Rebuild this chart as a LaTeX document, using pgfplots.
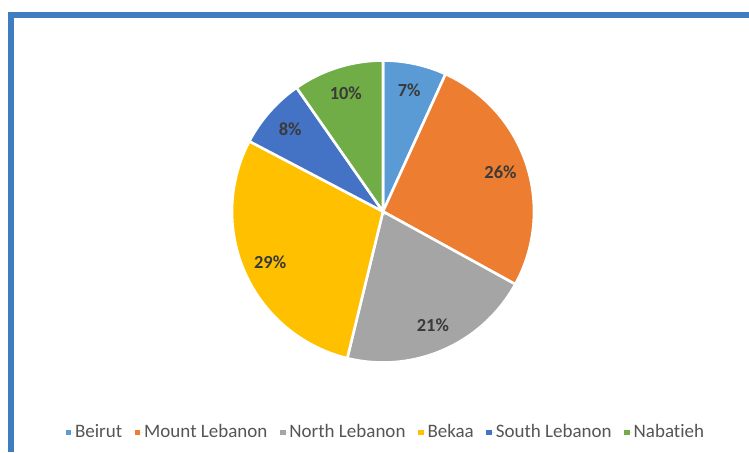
\documentclass[border=0pt]{standalone}
\usepackage{pgfplots}
\pgfplotsset{compat=1.18}
\usepackage{pgfplotstable}
\usepackage{fontspec}
\setmainfont{Carlito}[Ligatures=NoCommon]
\definecolor{cBeirut}{HTML}{5B9BD5}
\definecolor{cMount}{HTML}{ED7D31}
\definecolor{cNorth}{HTML}{A5A5A5}
\definecolor{cBekaa}{HTML}{FFC000}
\definecolor{cSouth}{HTML}{4472C4}
\definecolor{cNabatieh}{HTML}{70AD47}
\definecolor{frameblue}{HTML}{3F7DC0}
\definecolor{labelgray}{HTML}{3A3A3A}
\definecolor{legendgray}{HTML}{555555}

% share (slice size, %) and printed label
\pgfplotstableread[col sep=comma]{
name,value,label
Beirut,6.8,7
Mount Lebanon,26.2,26
North Lebanon,20.8,21
Bekaa,28.9,29
South Lebanon,7.6,8
Nabatieh,9.7,10
}\piedata

% cumulative angles (clockwise from 12 o'clock)
\def\acc{0}
\pgfplotsforeachungrouped \i in {0,...,5}{%
  \pgfplotstablegetelem{\i}{value}\of\piedata
  \let\v\pgfplotsretval
  \pgfmathsetmacro\s{90-3.6*\acc}%
  \pgfmathsetmacro\acc{\acc+\v}%
  \pgfmathsetmacro\e{90-3.6*\acc}%
  \pgfmathsetmacro\m{(\s+\e)/2}%
  \expandafter\xdef\csname sA\i\endcsname{\s}%
  \expandafter\xdef\csname eA\i\endcsname{\e}%
  \expandafter\xdef\csname mA\i\endcsname{\m}%
  \pgfplotstablegetelem{\i}{label}\of\piedata
  \expandafter\xdef\csname lA\i\endcsname{\pgfplotsretval}%
}

\newcommand\slice[3]{%
  \addplot[fill=#2, draw=white, line width=1.3pt, domain={\csname eA#1\endcsname}:{\csname sA#1\endcsname},
    samples=80, variable=\t]
    ({cos(\t)},{sin(\t)}) -- (axis cs:0,0) -- cycle;
  \addlegendentry{#3}
}
\newcommand\slicelabel[1]{%
  \node[font=\fontsize{9.2}{10}\selectfont\bfseries, text=labelgray]
    at (axis cs:{0.82*cos(\csname mA#1\endcsname)},{0.82*sin(\csname mA#1\endcsname)})
    {\csname lA#1\endcsname\%};
}

\begin{document}
\begin{tikzpicture}[x=0.5pt,y=-0.5pt]
\path[use as bounding box] (0,0) rectangle (749,452);
\fill[white] (13.5,17.5) rectangle (749,452);
\fill[frameblue] (8,12) rectangle (749,17.5);
\fill[frameblue] (8,12) rectangle (13.5,452);
\coordinate (pc) at (383,211.5);
\begin{axis}[
  at={(pc)}, anchor=origin,
  x=75.5pt, y=75.5pt,
  xmin=-1, xmax=1, ymin=-1, ymax=1,
  hide axis, clip=false,
  legend columns=-1,
  legend image code/.code={\fill[#1, draw=none] (0pt,-1.45pt) rectangle (2.9pt,1.45pt); \path[draw=none] (0pt,0pt) -- (4.2pt,0pt);},
  legend style={at={(axis description cs:0.508,-0.232)}, anchor=center,
    draw=none, fill=none, text=legendgray,
    font=\fontsize{9.5}{11}\selectfont,
    nodes={inner sep=0.6pt},
    /tikz/every even column/.append style={column sep=5.6pt}},
]
\slice{0}{cBeirut}{Beirut}
\slice{1}{cMount}{Mount Lebanon}
\slice{2}{cNorth}{North Lebanon}
\slice{3}{cBekaa}{Bekaa}
\slice{4}{cSouth}{South Lebanon}
\slice{5}{cNabatieh}{Nabatieh}
\slicelabel{0}
\slicelabel{1}
\slicelabel{2}
\slicelabel{3}
\slicelabel{4}
\slicelabel{5}
\end{axis}
\end{tikzpicture}
\end{document}
